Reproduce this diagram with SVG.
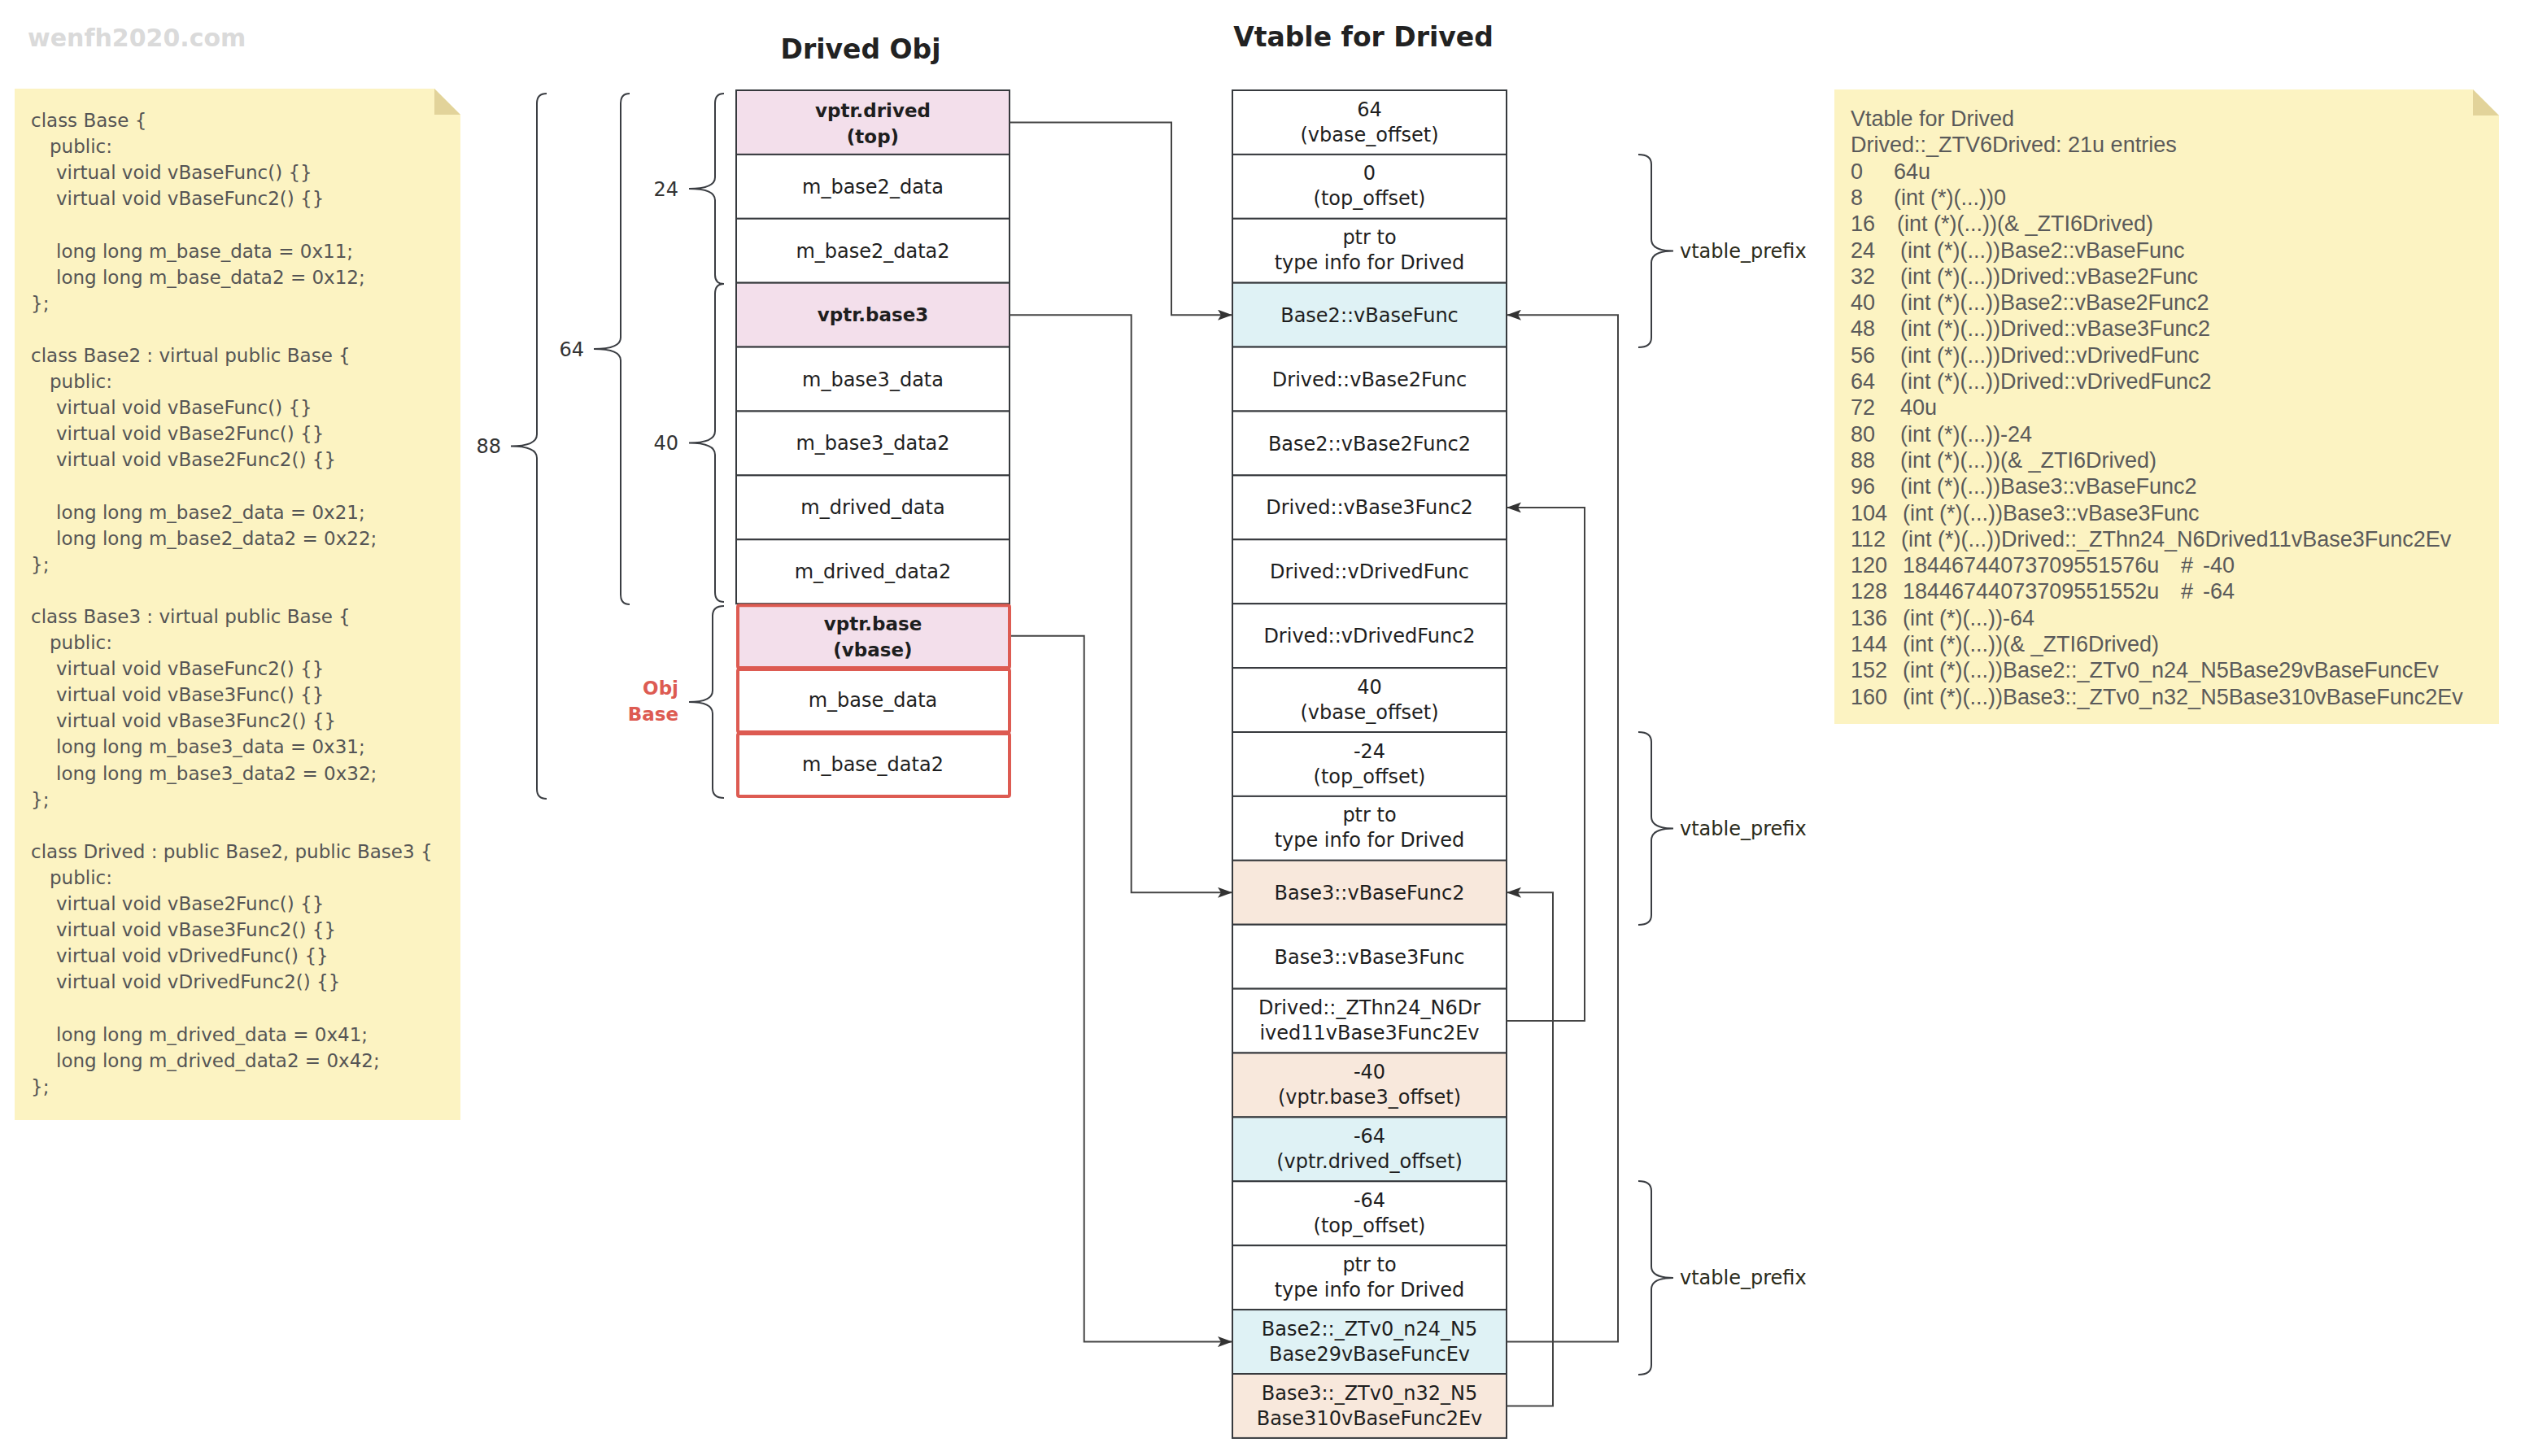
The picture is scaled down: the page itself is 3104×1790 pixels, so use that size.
<svg xmlns="http://www.w3.org/2000/svg" width="3104" height="1790" viewBox="0 0 3104 1790">
  <defs>
    <style>
      .cell{stroke:#36393d;stroke-width:2}
      .w{fill:#ffffff}
      .pink{fill:#f3dfeb}
      .blue{fill:#dff2f5}
      .peach{fill:#f8e8dc}
      .red{stroke:#dd5b52;stroke-width:4}
      .t{font-family:"DejaVu Sans",sans-serif;font-size:24px;fill:#1e1e1e;text-anchor:middle}
      .b{font-weight:bold;font-size:23px}
      .title{font-family:"DejaVu Sans",sans-serif;font-size:33px;font-weight:bold;fill:#222;text-anchor:middle}
      .code{font-family:"DejaVu Sans",sans-serif;font-size:23px;fill:#555}
      .note{font-family:"Liberation Sans",Arial,sans-serif;font-size:27px;fill:#5a5a5a}
      .notebg{fill:#fcf3c2}
      .fold{fill:#e2d39a}
      .brace{fill:none;stroke:#3a3d42;stroke-width:2}
      .lbl{font-family:"DejaVu Sans",sans-serif;font-size:24px;fill:#333;text-anchor:end}
      .objbase{font-family:"DejaVu Sans",sans-serif;font-size:23px;font-weight:bold;fill:#dd5b52;text-anchor:end}
      .pfx{font-family:"DejaVu Sans",sans-serif;font-size:24px;fill:#2b2b1a}
      .conn{fill:none;stroke:#444;stroke-width:2}
    </style>
    <marker id="arrow" markerUnits="userSpaceOnUse" markerWidth="18" markerHeight="13" refX="18" refY="6.5" orient="auto">
      <path d="M0,0 L18,6.5 L0,13 L4,6.5 Z" fill="#333"/>
    </marker>
  </defs>

  <rect width="3104" height="1790" fill="#ffffff"/>

  <!-- watermark -->
  <text x="34" y="57" font-family="DejaVu Sans, sans-serif" font-size="30" font-weight="bold" fill="#dadada">wenfh2020.com</text>

  <!-- titles -->
  <text class="title" x="1058" y="72">Drived Obj</text>
  <text class="title" x="1676" y="57">Vtable for Drived</text>

  <!-- class source note -->
  <g id="note-source">
    <path class="notebg" d="M18,109 H534 L566,141 V1377 H18 Z"/>
    <path class="fold" d="M534,109 L566,141 H534 Z"/>
    <g class="code">
      <text x="38" y="156">class Base {</text>
      <text x="61" y="188.1">public:</text>
      <text x="69" y="220.2">virtual void vBaseFunc() {}</text>
      <text x="69" y="252.3">virtual void vBaseFunc2() {}</text>
      <text x="69" y="316.5">long long m_base_data = 0x11;</text>
      <text x="69" y="348.6">long long m_base_data2 = 0x12;</text>
      <text x="38" y="380.7">};</text>
      <text x="38" y="444.9">class Base2 : virtual public Base {</text>
      <text x="61" y="477">public:</text>
      <text x="69" y="509.1">virtual void vBaseFunc() {}</text>
      <text x="69" y="541.2">virtual void vBase2Func() {}</text>
      <text x="69" y="573.3">virtual void vBase2Func2() {}</text>
      <text x="69" y="637.5">long long m_base2_data = 0x21;</text>
      <text x="69" y="669.6">long long m_base2_data2 = 0x22;</text>
      <text x="38" y="701.7">};</text>
      <text x="38" y="765.9">class Base3 : virtual public Base {</text>
      <text x="61" y="798">public:</text>
      <text x="69" y="830.1">virtual void vBaseFunc2() {}</text>
      <text x="69" y="862.2">virtual void vBase3Func() {}</text>
      <text x="69" y="894.3">virtual void vBase3Func2() {}</text>
      <text x="69" y="926.4">long long m_base3_data = 0x31;</text>
      <text x="69" y="958.5">long long m_base3_data2 = 0x32;</text>
      <text x="38" y="990.6">};</text>
      <text x="38" y="1054.8">class Drived : public Base2, public Base3 {</text>
      <text x="61" y="1086.9">public:</text>
      <text x="69" y="1119">virtual void vBase2Func() {}</text>
      <text x="69" y="1151.1">virtual void vBase3Func2() {}</text>
      <text x="69" y="1183.2">virtual void vDrivedFunc() {}</text>
      <text x="69" y="1215.3">virtual void vDrivedFunc2() {}</text>
      <text x="69" y="1279.5">long long m_drived_data = 0x41;</text>
      <text x="69" y="1311.6">long long m_drived_data2 = 0x42;</text>
      <text x="38" y="1343.7">};</text>
    </g>
  </g>

  <!-- vtable dump note -->
  <g id="note-dump">
    <path class="notebg" d="M2255,110 H3040 L3072,142 V890 H2255 Z"/>
    <path class="fold" d="M3040,110 L3072,142 H3040 Z"/>
    <g class="note">
      <text x="2275" y="155">Vtable for Drived</text>
      <text x="2275" y="187.3">Drived::_ZTV6Drived: 21u entries</text>
      <text y="219.6"><tspan x="2275">0</tspan><tspan x="2328">64u</tspan></text>
      <text y="251.9"><tspan x="2275">8</tspan><tspan x="2328">(int (*)(...))0</tspan></text>
      <text y="284.2"><tspan x="2275">16</tspan><tspan x="2332">(int (*)(...))(&amp; _ZTI6Drived)</tspan></text>
      <text y="316.5"><tspan x="2275">24</tspan><tspan x="2336">(int (*)(...))Base2::vBaseFunc</tspan></text>
      <text y="348.8"><tspan x="2275">32</tspan><tspan x="2336">(int (*)(...))Drived::vBase2Func</tspan></text>
      <text y="381.1"><tspan x="2275">40</tspan><tspan x="2336">(int (*)(...))Base2::vBase2Func2</tspan></text>
      <text y="413.4"><tspan x="2275">48</tspan><tspan x="2336">(int (*)(...))Drived::vBase3Func2</tspan></text>
      <text y="445.7"><tspan x="2275">56</tspan><tspan x="2336">(int (*)(...))Drived::vDrivedFunc</tspan></text>
      <text y="478"><tspan x="2275">64</tspan><tspan x="2336">(int (*)(...))Drived::vDrivedFunc2</tspan></text>
      <text y="510.3"><tspan x="2275">72</tspan><tspan x="2336">40u</tspan></text>
      <text y="542.6"><tspan x="2275">80</tspan><tspan x="2336">(int (*)(...))-24</tspan></text>
      <text y="574.9"><tspan x="2275">88</tspan><tspan x="2336">(int (*)(...))(&amp; _ZTI6Drived)</tspan></text>
      <text y="607.2"><tspan x="2275">96</tspan><tspan x="2336">(int (*)(...))Base3::vBaseFunc2</tspan></text>
      <text y="639.5"><tspan x="2275">104</tspan><tspan x="2339">(int (*)(...))Base3::vBase3Func</tspan></text>
      <text y="671.8"><tspan x="2275">112</tspan><tspan x="2337">(int (*)(...))Drived::_ZThn24_N6Drived11vBase3Func2Ev</tspan></text>
      <text y="704.1"><tspan x="2275">120</tspan><tspan x="2339">18446744073709551576u</tspan><tspan x="2681">#</tspan><tspan x="2708">-40</tspan></text>
      <text y="736.4"><tspan x="2275">128</tspan><tspan x="2339">18446744073709551552u</tspan><tspan x="2681">#</tspan><tspan x="2708">-64</tspan></text>
      <text y="768.7"><tspan x="2275">136</tspan><tspan x="2339">(int (*)(...))-64</tspan></text>
      <text y="801"><tspan x="2275">144</tspan><tspan x="2339">(int (*)(...))(&amp; _ZTI6Drived)</tspan></text>
      <text y="833.3"><tspan x="2275">152</tspan><tspan x="2339">(int (*)(...))Base2::_ZTv0_n24_N5Base29vBaseFuncEv</tspan></text>
      <text y="865.6"><tspan x="2275">160</tspan><tspan x="2339">(int (*)(...))Base3::_ZTv0_n32_N5Base310vBaseFunc2Ev</tspan></text>
    </g>
  </g>

  <!-- object layout braces -->
  <g id="brace-88">
    <path class="brace" d="M672,115 Q660,115 660,127 L660,534 Q660,548.5 628,548.5 Q660,548.5 660,563 L660,970 Q660,982 672,982"/>
    <text class="lbl" x="616" y="557">88</text>
  </g>
  <g id="brace-64">
    <path class="brace" d="M774,115 Q763,115 763,127 L763,415 Q763,429 730,429 Q763,429 763,443 L763,731 Q763,743 774,743"/>
    <text class="lbl" x="718" y="437.5">64</text>
  </g>
  <g id="brace-24">
    <path class="brace" d="M890,115 Q879,115 879,127 L879,218 Q879,232 847,232 Q879,232 879,246 L879,338 Q879,349 890,349"/>
    <text class="lbl" x="834" y="240.5">24</text>
  </g>
  <g id="brace-40">
    <path class="brace" d="M890,349 Q879,349 879,361 L879,530 Q879,544.5 847,544.5 Q879,544.5 879,559 L879,728 Q879,740 890,740"/>
    <text class="lbl" x="834" y="553">40</text>
  </g>
  <g id="brace-objbase">
    <path class="brace" d="M890,745 Q876,745 876,757 L876,849 Q876,863 847,863 Q876,863 876,877 L876,969 Q876,981 890,981"/>
    <text class="objbase" x="834" y="854">Obj</text>
    <text class="objbase" x="834" y="885.5">Base</text>
  </g>

  <!-- Drived object memory layout -->
  <g id="obj-vptr-drived">
    <rect class="cell pink" x="905" y="111" width="336" height="78.9"/>
    <text class="t b" x="1073" y="143.5">vptr.drived</text>
    <text class="t b" x="1073" y="175.5">(top)</text>
  </g>
  <g id="obj-m-base2-data">
    <rect class="cell w" x="905" y="189.9" width="336" height="78.9"/>
    <text class="t" x="1073" y="237.8">m_base2_data</text>
  </g>
  <g id="obj-m-base2-data2">
    <rect class="cell w" x="905" y="268.8" width="336" height="78.9"/>
    <text class="t" x="1073" y="316.7">m_base2_data2</text>
  </g>
  <g id="obj-vptr-base3">
    <rect class="cell pink" x="905" y="347.7" width="336" height="78.9"/>
    <text class="t b" x="1073" y="395.2">vptr.base3</text>
  </g>
  <g id="obj-m-base3-data">
    <rect class="cell w" x="905" y="426.6" width="336" height="78.9"/>
    <text class="t" x="1073" y="474.5">m_base3_data</text>
  </g>
  <g id="obj-m-base3-data2">
    <rect class="cell w" x="905" y="505.5" width="336" height="78.9"/>
    <text class="t" x="1073" y="553.4">m_base3_data2</text>
  </g>
  <g id="obj-m-drived-data">
    <rect class="cell w" x="905" y="584.4" width="336" height="78.9"/>
    <text class="t" x="1073" y="632.3">m_drived_data</text>
  </g>
  <g id="obj-m-drived-data2">
    <rect class="cell w" x="905" y="663.3" width="336" height="78.9"/>
    <text class="t" x="1073" y="711.2">m_drived_data2</text>
  </g>
  <g id="obj-vptr-base">
    <rect class="cell pink red" x="907" y="744.2" width="334" height="76.9" rx="2"/>
    <text class="t b" x="1073" y="774.7">vptr.base</text>
    <text class="t b" x="1073" y="806.7">(vbase)</text>
  </g>
  <g id="obj-m-base-data">
    <rect class="cell w red" x="907" y="823.1" width="334" height="76.9" rx="2"/>
    <text class="t" x="1073" y="869">m_base_data</text>
  </g>
  <g id="obj-m-base-data2">
    <rect class="cell w red" x="907" y="902" width="334" height="76.9" rx="2"/>
    <text class="t" x="1073" y="947.9">m_base_data2</text>
  </g>

  <!-- vtable for Drived -->
  <g id="vt-0">
    <rect class="cell w" x="1515" y="111" width="337" height="78.9"/>
    <text class="t" x="1683.5" y="142.5">64</text>
    <text class="t" x="1683.5" y="173.5">(vbase_offset)</text>
  </g>
  <g id="vt-1">
    <rect class="cell w" x="1515" y="189.9" width="337" height="78.9"/>
    <text class="t" x="1683.5" y="221.4">0</text>
    <text class="t" x="1683.5" y="252.4">(top_offset)</text>
  </g>
  <g id="vt-2">
    <rect class="cell w" x="1515" y="268.8" width="337" height="78.9"/>
    <text class="t" x="1683.5" y="300.3">ptr to</text>
    <text class="t" x="1683.5" y="331.3">type info for Drived</text>
  </g>
  <g id="vt-3">
    <rect class="cell blue" x="1515" y="347.7" width="337" height="78.9"/>
    <text class="t" x="1683.5" y="395.7">Base2::vBaseFunc</text>
  </g>
  <g id="vt-4">
    <rect class="cell w" x="1515" y="426.6" width="337" height="78.9"/>
    <text class="t" x="1683.5" y="474.6">Drived::vBase2Func</text>
  </g>
  <g id="vt-5">
    <rect class="cell w" x="1515" y="505.5" width="337" height="78.9"/>
    <text class="t" x="1683.5" y="553.5">Base2::vBase2Func2</text>
  </g>
  <g id="vt-6">
    <rect class="cell w" x="1515" y="584.4" width="337" height="78.9"/>
    <text class="t" x="1683.5" y="632.4">Drived::vBase3Func2</text>
  </g>
  <g id="vt-7">
    <rect class="cell w" x="1515" y="663.3" width="337" height="78.9"/>
    <text class="t" x="1683.5" y="711.3">Drived::vDrivedFunc</text>
  </g>
  <g id="vt-8">
    <rect class="cell w" x="1515" y="742.2" width="337" height="78.9"/>
    <text class="t" x="1683.5" y="790.2">Drived::vDrivedFunc2</text>
  </g>
  <g id="vt-9">
    <rect class="cell w" x="1515" y="821.1" width="337" height="78.9"/>
    <text class="t" x="1683.5" y="852.6">40</text>
    <text class="t" x="1683.5" y="883.6">(vbase_offset)</text>
  </g>
  <g id="vt-10">
    <rect class="cell w" x="1515" y="900" width="337" height="78.9"/>
    <text class="t" x="1683.5" y="931.5">-24</text>
    <text class="t" x="1683.5" y="962.5">(top_offset)</text>
  </g>
  <g id="vt-11">
    <rect class="cell w" x="1515" y="978.9" width="337" height="78.9"/>
    <text class="t" x="1683.5" y="1010.4">ptr to</text>
    <text class="t" x="1683.5" y="1041.4">type info for Drived</text>
  </g>
  <g id="vt-12">
    <rect class="cell peach" x="1515" y="1057.8" width="337" height="78.9"/>
    <text class="t" x="1683.5" y="1105.8">Base3::vBaseFunc2</text>
  </g>
  <g id="vt-13">
    <rect class="cell w" x="1515" y="1136.7" width="337" height="78.9"/>
    <text class="t" x="1683.5" y="1184.7">Base3::vBase3Func</text>
  </g>
  <g id="vt-14">
    <rect class="cell w" x="1515" y="1215.6" width="337" height="78.9"/>
    <text class="t" x="1683.5" y="1247.1">Drived::_ZThn24_N6Dr</text>
    <text class="t" x="1683.5" y="1278.1">ived11vBase3Func2Ev</text>
  </g>
  <g id="vt-15">
    <rect class="cell peach" x="1515" y="1294.5" width="337" height="78.9"/>
    <text class="t" x="1683.5" y="1326">-40</text>
    <text class="t" x="1683.5" y="1357">(vptr.base3_offset)</text>
  </g>
  <g id="vt-16">
    <rect class="cell blue" x="1515" y="1373.4" width="337" height="78.9"/>
    <text class="t" x="1683.5" y="1404.9">-64</text>
    <text class="t" x="1683.5" y="1435.9">(vptr.drived_offset)</text>
  </g>
  <g id="vt-17">
    <rect class="cell w" x="1515" y="1452.3" width="337" height="78.9"/>
    <text class="t" x="1683.5" y="1483.8">-64</text>
    <text class="t" x="1683.5" y="1514.8">(top_offset)</text>
  </g>
  <g id="vt-18">
    <rect class="cell w" x="1515" y="1531.2" width="337" height="78.9"/>
    <text class="t" x="1683.5" y="1562.7">ptr to</text>
    <text class="t" x="1683.5" y="1593.7">type info for Drived</text>
  </g>
  <g id="vt-19">
    <rect class="cell blue" x="1515" y="1610.1" width="337" height="78.9"/>
    <text class="t" x="1683.5" y="1641.6">Base2::_ZTv0_n24_N5</text>
    <text class="t" x="1683.5" y="1672.6">Base29vBaseFuncEv</text>
  </g>
  <g id="vt-20">
    <rect class="cell peach" x="1515" y="1689" width="337" height="78.9"/>
    <text class="t" x="1683.5" y="1720.5">Base3::_ZTv0_n32_N5</text>
    <text class="t" x="1683.5" y="1751.5">Base310vBaseFunc2Ev</text>
  </g>

  <!-- vtable prefix braces -->
  <g id="prefix-1">
    <path class="brace" d="M2014,190 Q2030,190 2030,202 L2030,294 Q2030,308.5 2057,308.5 Q2030,308.5 2030,323 L2030,415 Q2030,427 2014,427"/>
    <text class="pfx" x="2065" y="316.5">vtable_prefix</text>
  </g>
  <g id="prefix-2">
    <path class="brace" d="M2014,900 Q2030,900 2030,912 L2030,1004 Q2030,1018.5 2057,1018.5 Q2030,1018.5 2030,1033 L2030,1125 Q2030,1137 2014,1137"/>
    <text class="pfx" x="2065" y="1026.5">vtable_prefix</text>
  </g>
  <g id="prefix-3">
    <path class="brace" d="M2014,1452 Q2030,1452 2030,1464 L2030,1557 Q2030,1571 2057,1571 Q2030,1571 2030,1585 L2030,1678 Q2030,1690 2014,1690"/>
    <text class="pfx" x="2065" y="1579">vtable_prefix</text>
  </g>

  <!-- pointers -->
  <g id="connectors">
    <path class="conn" d="M1241,150.5 H1440 V387.2 H1515" marker-end="url(#arrow)"/>
    <path class="conn" d="M1241,387.2 H1390.7 V1097.3 H1515" marker-end="url(#arrow)"/>
    <path class="conn" d="M1243,781.7 H1332.7 V1649.6 H1515" marker-end="url(#arrow)"/>
    <path class="conn" d="M1852,1649.6 H1989 V387.2 H1852" marker-end="url(#arrow)"/>
    <path class="conn" d="M1852,1255 H1948 V623.9 H1852" marker-end="url(#arrow)"/>
    <path class="conn" d="M1852,1728.5 H1909 V1097.3 H1852" marker-end="url(#arrow)"/>
  </g>
</svg>
